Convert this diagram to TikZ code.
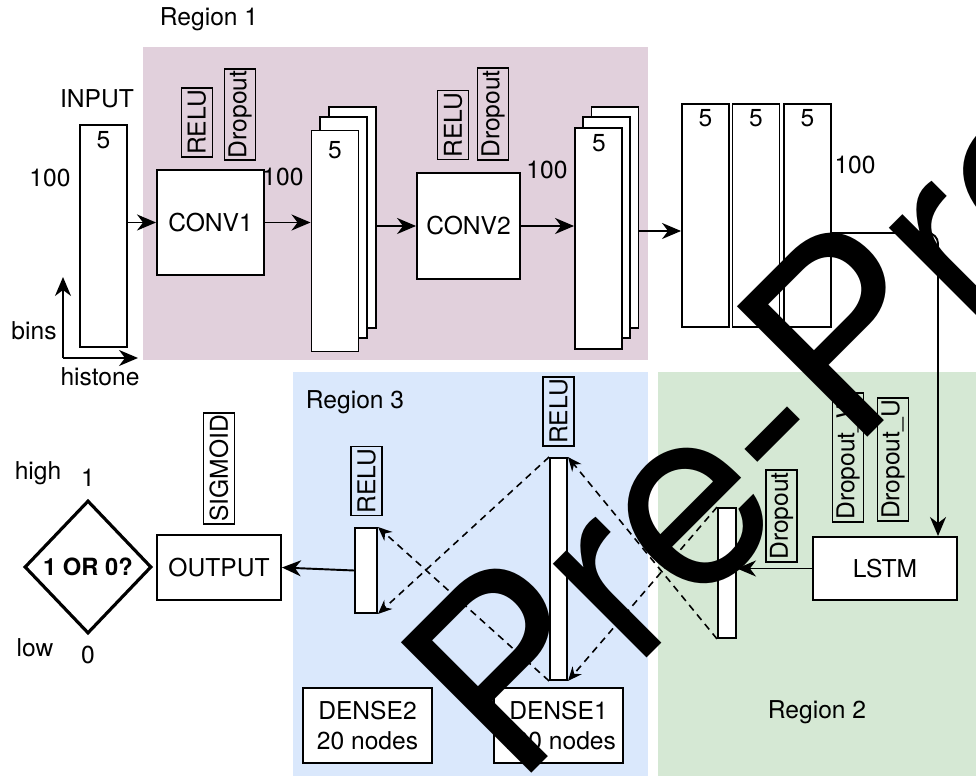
\documentclass[tikz,border=0pt]{standalone}
\usepackage{fontspec}
\setmainfont{TeX Gyre Heros}
\usepackage{tikz}
\usetikzlibrary{shapes.geometric, arrows.meta, positioning, calc}

\definecolor{regionpink}{RGB}{225,208,220}
\definecolor{regionblue}{RGB}{218,232,252}
\definecolor{regiongreen}{RGB}{213,232,212}

\begin{document}
\begin{tikzpicture}[x=0.02cm, y=-0.02cm,
        every node/.style={font=\fontsize{14}{17}\selectfont},
        box/.style={rectangle, draw, fill=white, line width=1.1pt, inner sep=0pt},
        tag/.style={rectangle, draw, line width=1.1pt, rotate=90, inner xsep=1.2pt, inner ysep=0pt, minimum height=0.62cm},
        arr/.style={-{Stealth[length=3.8mm, width=3.2mm, inset=1.2mm]}, line width=1.1pt},
        dasharr/.style={-{Stealth[length=2.8mm, width=2.4mm, inset=0.9mm]}, line width=0.9pt, dash pattern=on 4pt off 3pt}]
        \useasboundingbox (0,0) rectangle (976,776);
        \clip (0,0) rectangle (976,776);

        % regions
        \fill[regionpink] (143,47) rectangle (648,360);
        \fill[regionblue] (293,372) rectangle (648,776);
        \fill[regiongreen] (658,372) rectangle (976,776);
        \node (reg1) at (209,19) {Region 1};
        \node (reg3) at (355,402) {Region 3};
        \node (reg2) at (817,712) {Region 2};

        % input
        \node (input) [box, minimum width=0.94cm, minimum height=4.44cm] at (103.5,236) {};
        \node (inputlbl) at (97,99) {INPUT};
        \node (input5) at (103.5,140) {5};
        \node (input100) at (50,178) {100};
        \coordinate (axis) at (63,358);
        \coordinate (axtop) at (63,277);
        \coordinate (axright) at (138,358);
        \draw[arr] (axis) -- (axtop);
        \draw[arr] (axis) -- (axright);
        \node (bins) at (34,331) {bins};
        \node (histone) at (100,377) {histone};

        % region 1
        \node (conv1) [box, minimum width=2.14cm, minimum height=2.1cm] at (210.5,222.5) {CONV1};
        \node (relu1) [tag] at (197,122.5) {RELU};
        \node (drop1) [tag] at (240,114.5) {Dropout};
        \node (conv1n) at (283,177) {100};

        \node (s1c) [box, minimum width=0.94cm, minimum height=4.42cm] at (352.5,217.5) {};
        \node (s1b) [box, minimum width=0.94cm, minimum height=4.42cm] at (343.5,227.5) {};
        \node (s1a) [box, minimum width=0.94cm, minimum height=4.42cm] at (335,241) {};
        \node (s1n) at (335,150) {5};

        \node (conv2) [box, minimum width=2.06cm, minimum height=2.12cm] at (468.5,226) {CONV2};
        \node (relu2) [tag] at (453,125) {RELU};
        \node (drop2) [tag] at (493,114) {Dropout};
        \node (conv2n) at (547,170) {100};

        \node (s2c) [box, minimum width=0.94cm, minimum height=4.42cm] at (615,217.5) {};
        \node (s2b) [box, minimum width=0.94cm, minimum height=4.42cm] at (606.5,227.5) {};
        \node (s2a) [box, minimum width=0.94cm, minimum height=4.42cm] at (598.5,238.5) {};
        \node (s2n) at (599,143) {5};

        \draw[arr] (input.east |- conv1.west) -- (conv1.west);
        \draw[arr] (conv1.east) -- (conv1.east -| s1a.west);
        \draw[arr] (s1c.east |- conv2.west) -- (conv2.west);
        \draw[arr] (conv2.east) -- (conv2.east -| s2a.west);

        % reshaped columns
        \node (col1) [box, minimum width=0.94cm, minimum height=4.46cm] at (705.5,215.5) {};
        \node (col2) [box, minimum width=0.94cm, minimum height=4.46cm] at (756,215.5) {};
        \node (col3) [box, minimum width=0.94cm, minimum height=4.46cm] at (807.5,215.5) {};
        \node (col1n) at (705.5,118) {5};
        \node (col2n) at (756,118) {5};
        \node (col3n) at (807.5,118) {5};
        \node (coln) at (855,165) {100};
        \coordinate (link) at (660,231);
        \draw[arr] (s2c.east |- link) -- (col1.west |- link);

        % region 2
        \node (lstm) [box, minimum width=2.88cm, minimum height=1.26cm] at (885,568.5) {LSTM};
        \node (dropw) [tag] at (848,457.5) {Dropout\_W};
        \node (dropu) [tag] at (893,459.5) {Dropout\_U};
        \node (drop3) [tag] at (781.5,516) {Dropout};
        \node (lbar) [box, minimum width=0.36cm, minimum height=2.6cm] at (727,573) {};
        \coordinate (bend) at (938,233);
        \draw[arr, rounded corners=6pt] (col3.east |- bend) -- (bend) -- (bend |- lstm.north);
        \draw[arr] (lstm.west) -- (lstm.west -| lbar.east);

        % region 3
        \node (d1bar) [box, minimum width=0.34cm, minimum height=4.44cm] at (558.5,569) {};
        \node (relu3) [tag] at (558.5,411.5) {RELU};
        \node (d2bar) [box, minimum width=0.44cm, minimum height=1.7cm] at (366,570.5) {};
        \node (relu4) [tag] at (366.5,481) {RELU};
        \node (dense2) [box, minimum width=2.58cm, minimum height=1.5cm, align=center] at (367.5,725.5) {DENSE2\\20 nodes};
        \node (dense1) [box, minimum width=2.58cm, minimum height=1.5cm, align=center] at (558.5,725.5) {DENSE1\\100 nodes};

        \draw[dasharr] (lbar.north west) -- (d1bar.south east);
        \draw[dasharr] (lbar.south west) -- (d1bar.north east);
        \draw[dasharr] (d1bar.north west) -- (d2bar.south east);
        \draw[dasharr] (d1bar.south west) -- (d2bar.north east);

        % output
        \node (output) [box, minimum width=2.48cm, minimum height=1.3cm] at (219,567.5) {OUTPUT};
        \node (sigmoid) [tag] at (219,468.5) {SIGMOID};
        \draw[arr] (d2bar.west) -- (output.east);
        \node (decide) [diamond, draw, line width=1.8pt, fill=white, minimum width=2.54cm, minimum height=2.66cm, inner sep=0pt] at (88,567) {};
        \node (decidetxt) [font=\bfseries\fontsize{13.5}{15}\selectfont] at (decide) {1 OR 0?};
        \node (high) at (38,473) {high};
        \node (one) at (88,478) {1};
        \node (low) at (35,648) {low};
        \node (zero) at (88,655) {0};

        % overlay
        \node (watermark) [anchor=base west, rotate=45, inner sep=0pt, font=\fontsize{144}{144}\selectfont] at (515,790) {Pre-Proof};
    \end{tikzpicture}
\end{document}
